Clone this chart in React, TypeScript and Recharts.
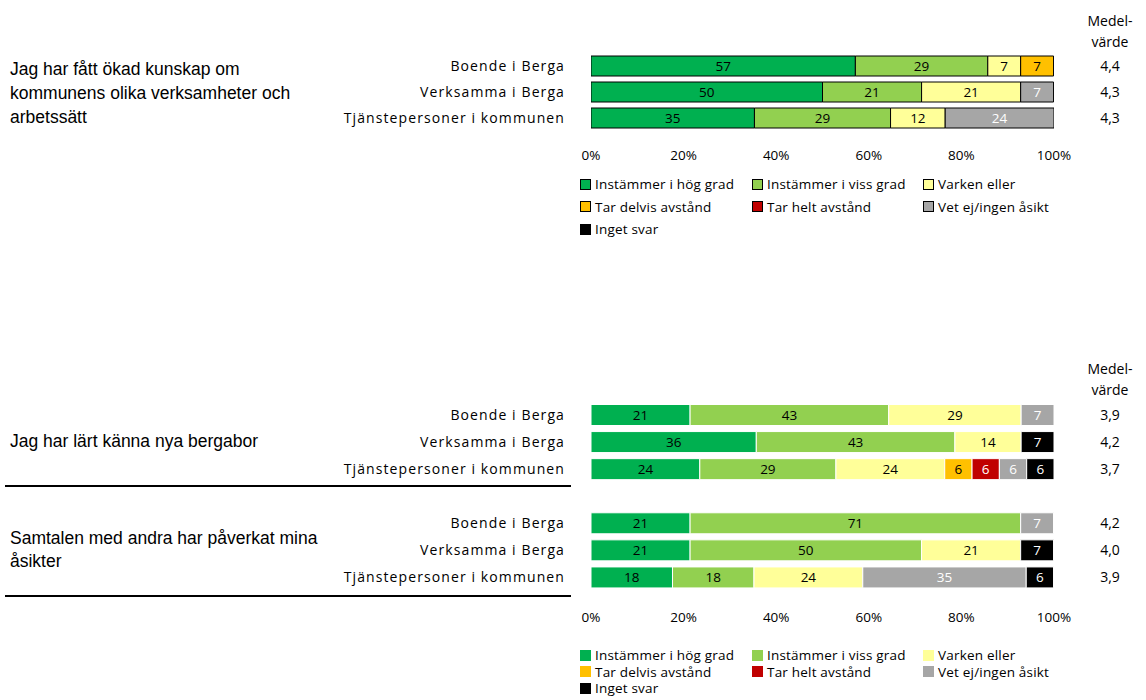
import React from "react";
import { BarChart, Bar, XAxis, YAxis, LabelList } from "recharts";

// Response categories (stack order, left to right)
const seriesNames = [
  "Instämmer i hög grad",
  "Instämmer i viss grad",
  "Varken eller",
  "Tar delvis avstånd",
  "Tar helt avstånd",
  "Vet ej/ingen åsikt",
  "Inget svar",
];
const seriesKeys = ["hog", "viss", "varken", "delvis", "helt", "vetej", "inget"];
const seriesColors = ["#00B050", "#92D050", "#FFFF99", "#FFC000", "#C00000", "#A6A6A6", "#000000"];
const labelColors = ["#000", "#000", "#000", "#000", "#fff", "#fff", "#fff"];

const groups = ["Boende i Berga", "Verksamma i Berga", "Tjänstepersoner i kommunen"];
const xTicks = [0, 20, 40, 60, 80, 100];

// "Jag har fått ökad kunskap om kommunens olika verksamheter och arbetssätt" (%)
const kunskapBoende = [57.1, 28.6, 7.1, 7.1, 0, 0, 0];
const kunskapVerksamma = [50.0, 21.4, 21.4, 0, 0, 7.1, 0];
const kunskapTjanste = [35.3, 29.4, 11.8, 0, 0, 23.5, 0];
const kunskapMedel = ["4,4", "4,3", "4,3"];

// "Jag har lärt känna nya bergabor" (%)
const lartBoende = [21.4, 42.9, 28.6, 0, 0, 7.1, 0];
const lartVerksamma = [35.7, 42.9, 14.3, 0, 0, 0, 7.1];
const lartTjanste = [23.5, 29.4, 23.5, 5.9, 5.9, 5.9, 5.9];
const lartMedel = ["3,9", "4,2", "3,7"];

// "Samtalen med andra har påverkat mina åsikter" (%)
const samtalBoende = [21.4, 71.4, 0, 0, 0, 7.1, 0];
const samtalVerksamma = [21.4, 50.0, 21.4, 0, 0, 0, 7.1];
const samtalTjanste = [17.6, 17.6, 23.5, 0, 0, 35.3, 5.9];
const samtalMedel = ["4,2", "4,0", "3,9"];

const FONT = "'Open Sans', sans-serif";

const toRow = (id: string, cat: string, values: number[], mean: string) => {
  const row: Record<string, any> = { id, cat, mean };
  seriesKeys.forEach((k, i) => (row[k] = values[i]));
  return row;
};

const topRows = [
  toRow("k1", groups[0], kunskapBoende, kunskapMedel[0]),
  toRow("k2", groups[1], kunskapVerksamma, kunskapMedel[1]),
  toRow("k3", groups[2], kunskapTjanste, kunskapMedel[2]),
];

const bottomRows = [
  toRow("l1", groups[0], lartBoende, lartMedel[0]),
  toRow("l2", groups[1], lartVerksamma, lartMedel[1]),
  toRow("l3", groups[2], lartTjanste, lartMedel[2]),
  toRow("gap", "", [0, 0, 0, 0, 0, 0, 0], ""),
  toRow("s1", groups[0], samtalBoende, samtalMedel[0]),
  toRow("s2", groups[1], samtalVerksamma, samtalMedel[1]),
  toRow("s3", groups[2], samtalTjanste, samtalMedel[2]),
];

function StackChart({ rows, top, height, marginTop, barSize, stroke, tickMargin }: any) {
  const lookup = (id: string) => rows.find((r: any) => r.id === id) || {};
  const LeftTick = ({ x, y, payload }: any) => (
    <text x={x} y={y} dy="0.35em" textAnchor="end" fontFamily={FONT} fontSize={14} letterSpacing={1.1} fill="#000">
      {lookup(payload.value).cat}
    </text>
  );
  const RightTick = ({ y, payload }: any) => (
    <text x={1110} y={y} dy="0.35em" textAnchor="middle" fontFamily={FONT} fontSize={14} fill="#000">
      {lookup(payload.value).mean}
    </text>
  );
  return (
    <div style={{ position: "absolute", left: 0, top }}>
      <BarChart
        layout="vertical"
        width={1146}
        height={height}
        data={rows}
        margin={{ top: marginTop, right: 0, bottom: 0, left: 0 }}
        barSize={barSize}
      >
        <XAxis
          type="number"
          domain={[0, 100]}
          allowDataOverflow
          ticks={xTicks}
          tickFormatter={(v) => `${v}%`}
          axisLine={false}
          tickLine={false}
          tickSize={0}
          tickMargin={tickMargin}
          height={40}
          interval={0}
          tick={{ fontFamily: FONT, fontSize: 13.5, fill: "#000" }}
        />
        <YAxis
          yAxisId="left"
          type="category"
          dataKey="id"
          width={591}
          axisLine={false}
          tickLine={false}
          tickSize={0}
          tickMargin={26}
          interval={0}
          tick={<LeftTick />}
        />
        <YAxis
          yAxisId="right"
          orientation="right"
          type="category"
          dataKey="id"
          width={92}
          axisLine={false}
          tickLine={false}
          tickSize={0}
          interval={0}
          tick={<RightTick />}
        />
        {seriesKeys.map((k, i) => (
          <Bar
            key={k}
            dataKey={k}
            name={seriesNames[i]}
            stackId="a"
            yAxisId="left"
            fill={seriesColors[i]}
            stroke={stroke}
            strokeWidth={1}
            isAnimationActive={false}
          >
            <LabelList
              dataKey={k}
              position="center"
              formatter={(v: any) => (v > 0 ? Math.round(v) : "")}
              fill={labelColors[i]}
              fontFamily={FONT}
              fontSize={13.5}
            />
          </Bar>
        ))}
      </BarChart>
    </div>
  );
}

function LegendBlock({ top, rowHeight, bordered }: any) {
  const cols = [580, 752, 923];
  return (
    <>
      {seriesNames.map((name, i) => {
        const col = i % 3;
        const row = Math.floor(i / 3);
        const cy = top + row * rowHeight;
        return (
          <div
            key={name}
            style={{
              position: "absolute",
              left: cols[col],
              top: cy - 10,
              height: 20,
              display: "flex",
              alignItems: "center",
              fontFamily: FONT,
              fontSize: 13.5,
              letterSpacing: 0.2,
              whiteSpace: "nowrap",
              color: "#000",
            }}
          >
            <span
              style={{
                display: "inline-block",
                width: 11,
                height: 11,
                boxSizing: "border-box",
                background: seriesColors[i],
                border: bordered ? "1px solid #000" : "none",
                marginRight: 4,
              }}
            />
            {name}
          </div>
        );
      })}
    </>
  );
}

const statementStyle: React.CSSProperties = {
  position: "absolute",
  left: 10,
  fontFamily: "'Liberation Sans', Arial, sans-serif",
  fontSize: 17.5,
  color: "#000",
};

const medelStyle: React.CSSProperties = {
  position: "absolute",
  left: 1070,
  width: 80,
  textAlign: "center",
  fontFamily: FONT,
  fontSize: 14,
  lineHeight: "21px",
  color: "#000",
};

export default function App() {
  return (
    <div style={{ position: "absolute", left: 0, top: 0, width: 1146, height: 700, background: "#fff", overflow: "hidden" }}>
      <div style={{ ...medelStyle, top: 10 }}>
        Medel-
        <br />
        värde
      </div>
      <div style={{ ...statementStyle, top: 57, lineHeight: "24px" }}>
        Jag har fått ökad kunskap om
        <br />
        kommunens olika verksamheter och
        <br />
        arbetssätt
      </div>
      <StackChart rows={topRows} top={0} height={171} marginTop={53} barSize={20} stroke="#000" tickMargin={19} />
      <LegendBlock top={184} rowHeight={22.5} bordered />

      <div style={{ ...medelStyle, top: 358 }}>
        Medel-
        <br />
        värde
      </div>
      <div style={{ ...statementStyle, top: 429, lineHeight: "24px" }}>Jag har lärt känna nya bergabor</div>
      <div style={{ ...statementStyle, top: 527, lineHeight: "23px" }}>
        Samtalen med andra har påverkat mina
        <br />
        åsikter
      </div>
      <div style={{ position: "absolute", left: 5, top: 485, width: 566, height: 2, background: "#000" }} />
      <div style={{ position: "absolute", left: 5, top: 595, width: 566, height: 2, background: "#000" }} />
      <StackChart rows={bottomRows} top={390} height={241} marginTop={11.5} barSize={21} stroke="#fff" tickMargin={21} />
      <LegendBlock top={655} rowHeight={16.5} bordered={false} />
    </div>
  );
}
